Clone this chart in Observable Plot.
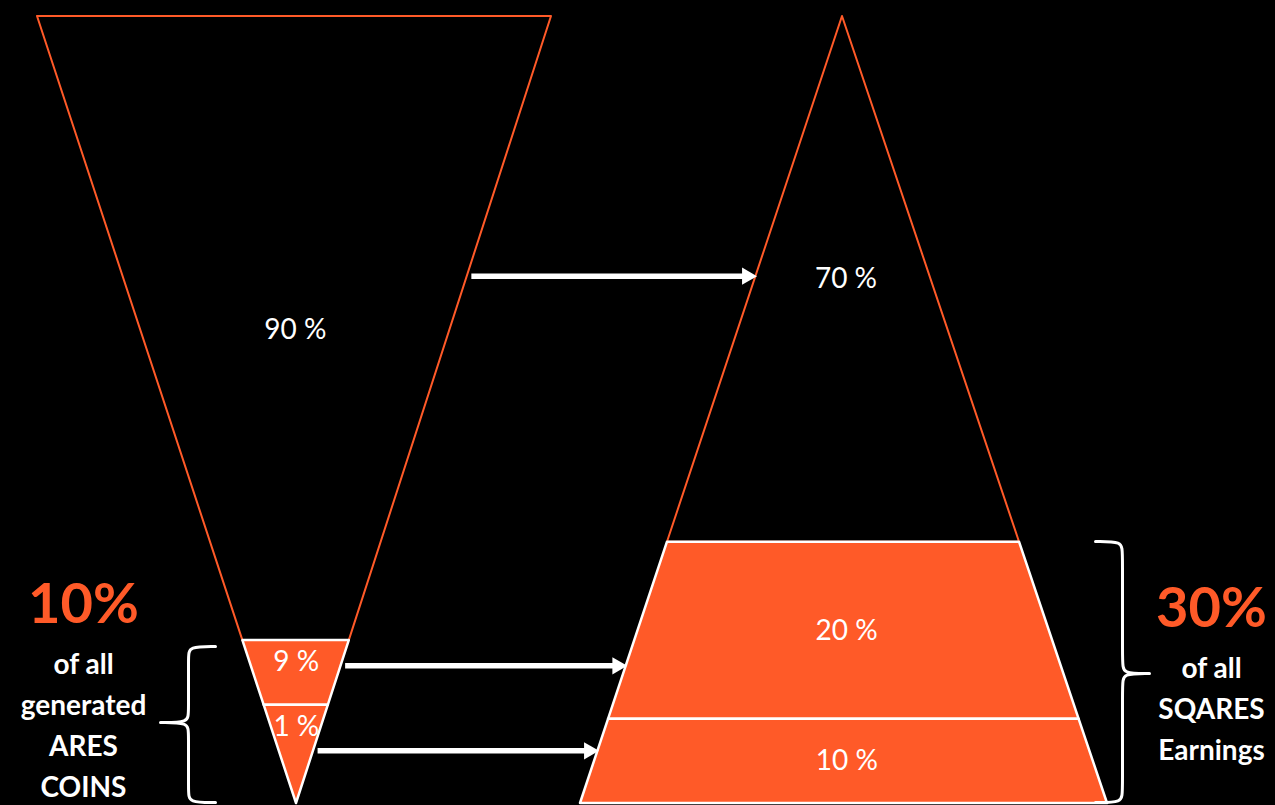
<!DOCTYPE html>
<html>
<head>
<meta charset="utf-8">
<script src="https://cdn.jsdelivr.net/npm/d3@7"></script>
<script src="https://cdn.jsdelivr.net/npm/@observablehq/plot@0.6"></script>
<style>
  html, body { margin: 0; padding: 0; background: #000; }
  #chart svg { display: block; }
</style>
</head>
<body>
<div id="chart"></div>
<script>
// ---- data ----
const leftLabels = ["90 %", "9 %", "1 %"];
const leftValues = [90, 9, 1];
const leftHighlight = [false, true, true];
const rightLabels = ["70 %", "20 %", "10 %"];
const rightValues = [70, 20, 10];
const rightHighlight = [false, true, true];
const flows = [[0, 0], [1, 1], [2, 2]]; // left segment -> right segment
const leftTotal = "10%";
const leftCaption = ["of all", "generated", "ARES", "COINS"];
const rightTotal = "30%";
const rightCaption = ["of all", "SQARES", "Earnings"];

// ---- layout ----
const W = 1275, H = 805;
const ORANGE = "#FF5A28";
const FONT = "Lato, 'Open Sans', sans-serif";
const leftFunnel = {top: 16, bottom: 803, topL: 37, topR: 551, botL: 296, botR: 296,
  bounds: [0, 0.793, 0.875, 1], labelT: [0.398, 0.82, 0.903], arrowT: [0.33, 0.825, 0.933]};
const rightFunnel = {top: 16, bottom: 803, topL: 842, topR: 842, botL: 580, botR: 1107,
  bounds: [0, 0.668, 0.893, 1]};

const lerp = (a, b, t) => a + (b - a) * t;
const yAt = (f, t) => lerp(f.top, f.bottom, t);
const edges = (f, t) => [lerp(f.topL, f.botL, t), lerp(f.topR, f.botR, t)];
const tAtY = (f, y) => (y - f.top) / (f.bottom - f.top);

function segRows(f, name, values, highlight) {
  const rows = [];
  values.forEach((v, i) => {
    for (const t of [f.bounds[i], f.bounds[i + 1]]) {
      const [x1, x2] = edges(f, t);
      rows.push({key: name + i, y: yAt(f, t), x1, x2, hi: highlight[i]});
    }
  });
  return rows;
}
const segments = [
  ...segRows(leftFunnel, "L", leftValues, leftHighlight),
  ...segRows(rightFunnel, "R", rightValues, rightHighlight)
];

const labels = [
  ...leftLabels.map((s, i) => {
    const t = leftFunnel.labelT[i]; const [a, b] = edges(leftFunnel, t);
    return {text: s, x: (a + b) / 2, y: yAt(leftFunnel, t)};
  }),
  ...rightLabels.map((s, i) => {
    const t = (rightFunnel.bounds[i] + rightFunnel.bounds[i + 1]) / 2; const [a, b] = edges(rightFunnel, t);
    return {text: s, x: (a + b) / 2 + 3, y: yAt(rightFunnel, t)};
  })
];

const arrows = flows.map(([li, ri]) => {
  const y = yAt(leftFunnel, leftFunnel.arrowT[li]);
  const xs = edges(leftFunnel, leftFunnel.arrowT[li])[1] + 4;
  const xe = edges(rightFunnel, tAtY(rightFunnel, y))[0] + 1;
  return {y, xs, xe};
});
const headLen = 15;

function brace(xEnd, xSpine, xPoint, yTop, yMid, yBot, r, id) {
  const p = [[xEnd, yTop], [xSpine, yTop], [xSpine, yTop + r], [xSpine, yMid - r], [xSpine, yMid],
    [xPoint, yMid], [xPoint, yMid], [xPoint, yMid], [xSpine, yMid], [xSpine, yMid + r],
    [xSpine, yBot - r], [xSpine, yBot], [xEnd, yBot]];
  return p.map(([x, y]) => ({x, y, id}));
}
const braces = [
  ...brace(215, 188, 160, 646, 722, 802, 10, "L"),
  ...brace(1095, 1122, 1149, 541, 673, 802, 10, "R")
];

const captions = [
  {text: leftTotal, x: 83, y: 605, size: 56, fill: ORANGE},
  ...leftCaption.map((s, i) => ({text: s, x: 83, y: 665 + i * 41, size: 28, fill: "white"})),
  {text: rightTotal, x: 1211, y: 609, size: 56, fill: ORANGE},
  ...rightCaption.map((s, i) => ({text: s, x: 1211, y: 669 + i * 41, size: 28, fill: "white"}))
];

const chart = Plot.plot({
  width: W, height: H, margin: 0,
  style: {background: "black"},
  x: {domain: [0, W], range: [0, W], axis: null},
  y: {domain: [0, H], range: [0, H], axis: null},
  marks: [
    Plot.areaX(segments.filter(d => !d.hi), {y: "y", x1: "x1", x2: "x2", z: "key", fill: "black", stroke: ORANGE, strokeWidth: 2, curve: "linear"}),
    Plot.areaX(segments.filter(d => d.hi), {y: "y", x1: "x1", x2: "x2", z: "key", fill: ORANGE, stroke: "white", strokeWidth: 2.5, curve: "linear"}),
    Plot.link(arrows, {x1: "xs", x2: d => d.xe - headLen + 2, y1: "y", y2: "y", stroke: "white", strokeWidth: 5.5}),
    Plot.dot(arrows, {x: d => d.xe - 10, y: "y", symbol: "triangle", rotate: 90, r: 6.4, fill: "white", stroke: "none"}),
    Plot.line(braces, {x: "x", y: "y", z: "id", stroke: "white", strokeWidth: 3, curve: "basis"}),
    Plot.text(labels, {x: "x", y: "y", text: "text", fill: "white", fontSize: 28, fontFamily: FONT, fontWeight: 400}),
    Plot.text(captions.filter(d => d.size > 40), {x: "x", y: "y", text: "text", fill: "fill", fontSize: 56, fontFamily: FONT, fontWeight: 700}),
    Plot.text(captions.filter(d => d.size < 40), {x: "x", y: "y", text: "text", fill: "fill", fontSize: 28, fontFamily: FONT, fontWeight: 700})
  ]
});
document.getElementById("chart").appendChild(chart);
</script>
</body>
</html>
